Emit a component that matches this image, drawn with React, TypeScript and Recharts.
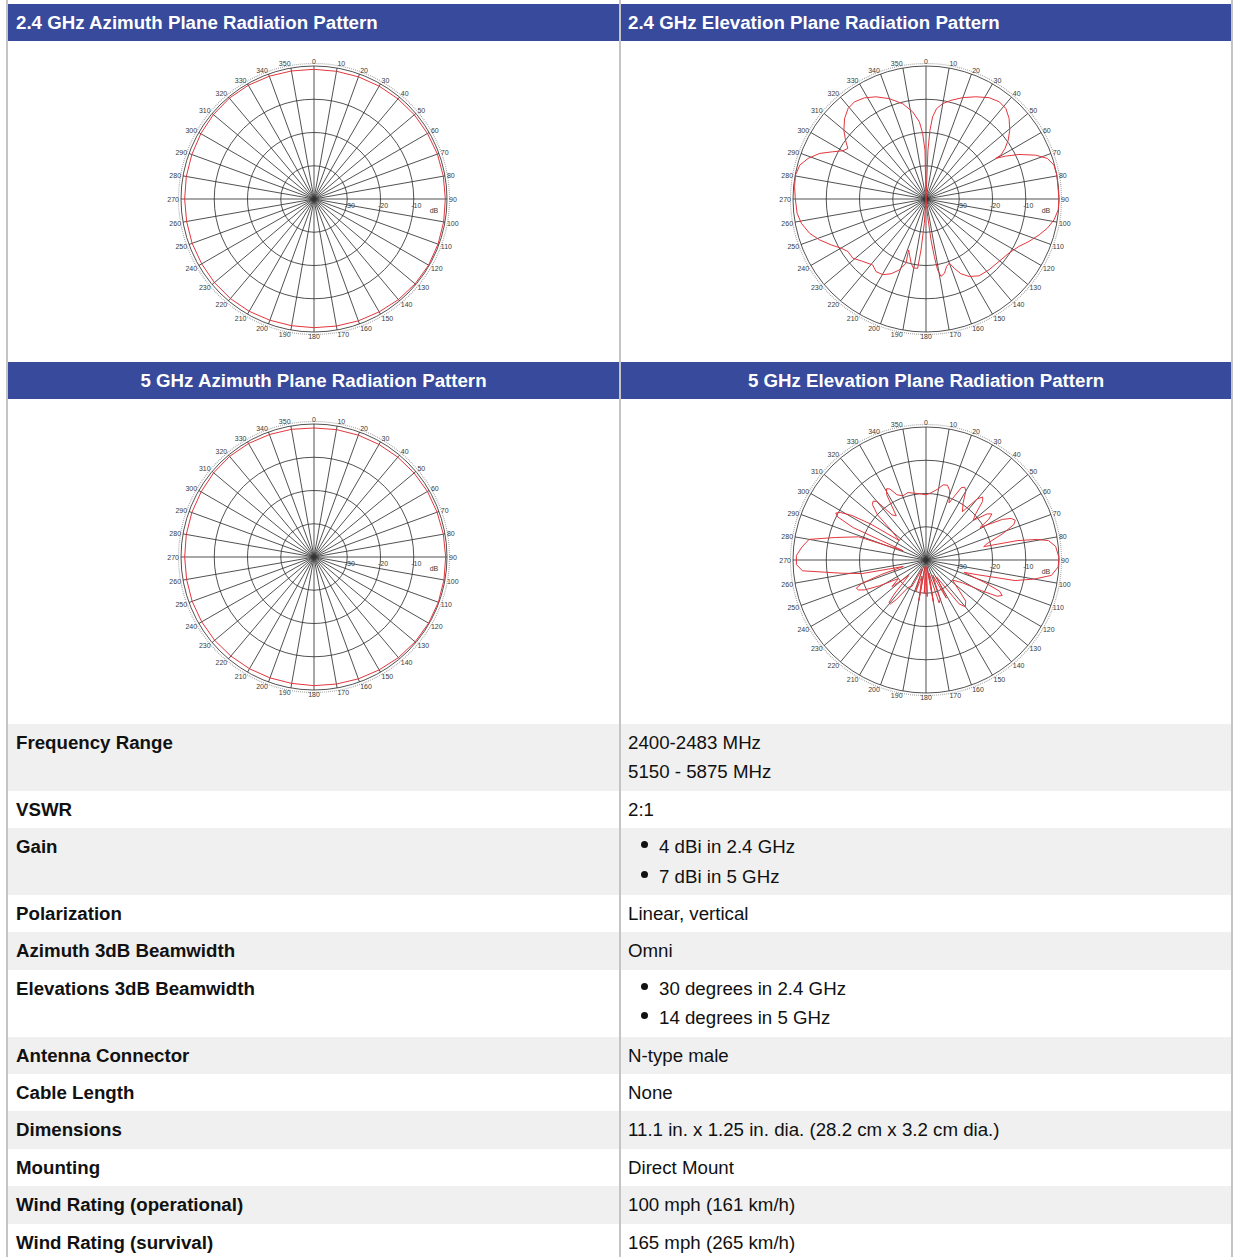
import React from "react";
import { RadarChart, Radar, PolarGrid, PolarAngleAxis, PolarRadiusAxis } from "recharts";

// polar scale: centre is -40 dB, outer ring 0 dB, rings every 10 dB
const angleTicks = [0, 10, 20, 30, 40, 50, 60, 70, 80, 90, 100, 110, 120, 130, 140, 150, 160, 170, 180, 190, 200, 210, 220, 230, 240, 250, 260, 270, 280, 290, 300, 310, 320, 330, 340, 350];
const dbTicks = [-40, -30, -20, -10, 0];
const dbLabels = [-30, -20, -10];

const azDeg = [0, 10, 20, 30, 40, 50, 60, 70, 80, 90, 100, 110, 120, 130, 140, 150, 160, 170, 180, 190, 200, 210, 220, 230, 240, 250, 260, 270, 280, 290, 300, 310, 320, 330, 340, 350];
const az24Db = [-1, -1, -0.9, -0.8, -0.7, -0.6, -0.6, -0.5, -0.5, -0.5, -0.4, -0.3, -0.2, -0.3, -0.5, -0.8, -1, -1.2, -1.3, -1.3, -1.2, -1, -0.9, -0.9, -1, -1, -1.1, -1.1, -1, -0.9, -0.7, -0.5, -0.4, -0.5, -0.7, -0.9];
const az5Db = [-1.2, -1.1, -1, -0.9, -0.8, -0.7, -0.6, -0.6, -0.5, -0.4, -0.3, -0.2, -0.2, -0.3, -0.5, -0.8, -1, -1.2, -1.3, -1.4, -1.3, -1.2, -1.1, -1, -1, -1, -1.1, -1.1, -1, -0.9, -0.8, -0.6, -0.5, -0.6, -0.8, -1];

// elevation traces follow the curve in drawing order (angles may step back on spikes)
const el24Deg = [
  0, 2.3, 3.3, 4.6, 6.7, 9.9, 14.2, 19.8, 26, 31.9,
  37, 41.4, 45.9, 50.6, 54.4, 57.4, 59.6, 59.8, 61.7, 64.4,
  68.2, 71.5, 75.2, 79.8, 90, 94.7, 99.3, 103.6, 107.6, 112.4,
  117, 123, 130.5, 138.3, 145.3, 150.8, 155, 157.8, 160, 163,
  166, 169, 170.7, 171.8, 173, 174.6, 180, 183.9, 185.6, 186.9,
  190.4, 193.1, 198.8, 197.3, 200.6, 205, 209.7, 214.5, 218.9, 225.3,
  231, 236.1, 239.9, 244.2, 249, 253.6, 259, 263.7, 270, 275.4,
  280.4, 285, 289, 293.2, 296.9, 300.1, 302.9, 306.2, 309.9, 314.6,
  319.2, 323.6, 328.7, 334, 340, 346.3, 351.3, 355.1, 357.1, 358.8,
];
const el24Db = [
  -40, -25.3, -19.3, -15.2, -12.6, -10.9, -9.4, -7.6, -5.8, -4.1,
  -3.4, -3.7, -5.2, -7.4, -9.6, -11.8, -13.9, -15.7, -12.8, -9,
  -4.5, -1.5, -0.2, 0, 0, -0.1, -1, -2.5, -4.3, -6.5,
  -8.6, -10.2, -11.1, -11.5, -11.9, -13.3, -15.2, -17.5, -19.5, -18.8,
  -17, -16.3, -18.4, -22.5, -27.6, -34.7, -40, -32.7, -24.6, -19,
  -18.9, -20.2, -23.8, -19.8, -17.2, -15.2, -13.8, -13.5, -14.5, -13.3,
  -11.7, -11.7, -10.5, -8.3, -5.7, -3.5, -1.8, -1, -0.7, -0.3,
  -0.1, -0.7, -2.5, -5.2, -8.6, -11.1, -12, -10, -7.8, -5.6,
  -4.1, -3.7, -4.4, -5.8, -7.9, -10.5, -13.5, -16.7, -20.3, -25.3,
];

const el5Deg = [
  0, 4, 9, 13, 16, 19, 22, 24, 26, 28,
  30, 33, 37, 40, 42, 44, 47, 50, 53, 55,
  57, 59, 62, 64, 66, 68, 71, 75, 77, 78,
  79.5, 81, 84, 89, 93, 97, 100, 103, 106, 108,
  111, 113, 115, 117, 119, 122, 127, 132, 136, 140,
  143, 148, 152, 156, 160, 163, 167, 170, 174, 178,
  180, 183, 186, 190, 194, 198, 203, 208, 213, 217,
  219, 221, 223, 228, 232, 236, 241, 244, 246, 248,
  250, 252, 254, 258, 261, 265, 268, 272, 276, 280,
  284, 289, 292, 294, 296, 297.5, 299, 301, 303, 306,
  310, 313, 316, 318, 320, 323, 326, 329, 331, 333,
  336, 340, 345, 350, 355,
];
const el5Db = [
  -20.4, -19.8, -18.5, -16.8, -16.6, -18, -21.5, -19, -15.8, -15.2,
  -16, -19.5, -21.8, -16, -14.5, -15.5, -19.5, -21.5, -17, -15.8,
  -17.5, -21, -14, -11.5, -10.6, -11.5, -15.5, -21, -22.2, -12,
  -6, -2.7, -0.8, 0, -0.2, -2, -7, -12.5, -24, -28,
  -21, -16, -14.7, -16, -21, -27, -30, -27, -22.8, -21.6,
  -23.5, -34, -27, -35, -27.5, -26.5, -36, -27, -38, -29,
  -36, -30, -38, -27.6, -35, -30, -37, -31, -30.2, -25,
  -23, -23, -26, -33, -27, -30, -24, -19.5, -17.8, -17.4,
  -19.5, -26, -32.9, -20.4, -14.5, -2.7, -1, -1, -2.5, -4.3,
  -12, -18.6, -32.6, -16, -10.5, -9.4, -10.5, -14, -20, -30,
  -27, -20, -16.8, -16.2, -17, -23, -24, -17, -15.5, -16,
  -18.5, -19.5, -19, -19.6, -20,
];

const chartTitles = [
  "2.4 GHz Azimuth Plane Radiation Pattern",
  "2.4 GHz Elevation Plane Radiation Pattern",
  "5 GHz Azimuth Plane Radiation Pattern",
  "5 GHz Elevation Plane Radiation Pattern",
];

const specNames = [
  "Frequency Range",
  "VSWR",
  "Gain",
  "Polarization",
  "Azimuth 3dB Beamwidth",
  "Elevations 3dB Beamwidth",
  "Antenna Connector",
  "Cable Length",
  "Dimensions",
  "Mounting",
  "Wind Rating (operational)",
  "Wind Rating (survival)",
];
const specValues = [
  ["2400-2483 MHz", "5150 - 5875 MHz"],
  ["2:1"],
  ["4 dBi in 2.4 GHz", "7 dBi in 5 GHz"],
  ["Linear, vertical"],
  ["Omni"],
  ["30 degrees in 2.4 GHz", "14 degrees in 5 GHz"],
  ["N-type male"],
  ["None"],
  ["11.1 in. x 1.25 in. dia. (28.2 cm x 3.2 cm dia.)"],
  ["Direct Mount"],
  ["100 mph (161 km/h)"],
  ["165 mph (265 km/h)"],
];
const bulletRows = ["Gain", "Elevations 3dB Beamwidth"];

const BLUE = "#374a9c";
const BORDER = "#c4c4c4";
const SHADE = "#f0f0f0";
const FONT = '"Liberation Sans", Arial, sans-serif';
const TEXT_SIZE = 18.7;
const SIZE = 300;
const OUTER = 133;

function AngleTick(props: any) {
  const { x, y, payload, textAnchor } = props;
  const a = (payload.coordinate * Math.PI) / 180;
  const dy = -Math.sin(a) * 2.5 + 2.8;
  return (
    <text x={x} y={y + dy} textAnchor={textAnchor} fontSize={7} fill="#3a3a3a" fontFamily={FONT}>
      {payload.value}
    </text>
  );
}

function DbTick(props: any) {
  const { x, y, payload } = props;
  if (payload.value === 0) {
    return (
      <text x={x - 13} y={y + 13.5} textAnchor="middle" fontSize={7} fill="#3a3a3a" fontFamily={FONT}>
        dB
      </text>
    );
  }
  if (!dbLabels.includes(payload.value)) return <g />;
  return (
    <text x={x + 2.5} y={y + 8.5} textAnchor="middle" fontSize={7} fill="#3a3a3a" fontFamily={FONT}>
      {payload.value}
    </text>
  );
}

function PolarPlot({ deg, db }: { deg: number[]; db: number[] }) {
  const data = deg.map((d, i) => ({ deg: d, db: db[i] }));
  return (
    <RadarChart
      width={SIZE}
      height={SIZE}
      data={data}
      cx={SIZE / 2}
      cy={SIZE / 2}
      outerRadius={OUTER}
      startAngle={90}
      endAngle={-270}
      margin={{ top: 0, right: 0, bottom: 0, left: 0 }}
    >
      <PolarGrid gridType="circle" stroke="#333" strokeWidth={0.85} />
      <PolarGrid gridType="circle" radialLines={false} polarRadius={[OUTER + 2.5]} stroke="#9a9a9a" strokeWidth={1.2} strokeDasharray="0.8 1.2" />
      <PolarAngleAxis
        dataKey="deg"
        type="number"
        domain={[0, 360]}
        ticks={angleTicks}
        tick={AngleTick}
        tickLine={false}
        axisLine={false}
        tickSize={2}
      />
      <PolarRadiusAxis
        angle={0}
        type="number"
        domain={[-40, 0]}
        ticks={dbTicks}
        tick={DbTick}
        axisLine={false}
        tickLine={false}
      />
      <Radar dataKey="db" stroke="#e3373d" strokeWidth={1} fill="none" fillOpacity={0} dot={false} isAnimationActive={false} />
    </RadarChart>
  );
}

function TwoCol({ left, right, bg, height }: { left: React.ReactNode; right: React.ReactNode; bg: string; height?: number }) {
  return (
    <div style={{ display: "flex", background: bg, height }}>
      <div style={{ width: 611 }}>{left}</div>
      <div style={{ width: 610, borderLeft: `2px solid ${BORDER}` }}>{right}</div>
    </div>
  );
}

const headStyle: React.CSSProperties = {
  height: 37,
  display: "flex",
  alignItems: "center",
  color: "#fff",
  fontWeight: "bold",
  fontSize: TEXT_SIZE,
  whiteSpace: "nowrap",
};

export default function App() {
  return (
    <div style={{ position: "absolute", left: 0, top: 0, width: 1236, height: 1257, background: "#fff", overflow: "hidden", fontFamily: FONT }}>
      <div style={{ position: "absolute", left: 6, top: 0, width: 1223, borderLeft: `2px solid ${BORDER}`, borderRight: `2px solid ${BORDER}` }}>
        <TwoCol bg="#fff" height={4} left={null} right={null} />
        <TwoCol
          bg={BLUE}
          left={<div style={{ ...headStyle, paddingLeft: 8 }}>{chartTitles[0]}</div>}
          right={<div style={{ ...headStyle, paddingLeft: 7 }}>{chartTitles[1]}</div>}
        />
        <TwoCol
          bg="#fff"
          height={321}
          left={<div style={{ display: "flex", justifyContent: "center", paddingTop: 8 }}><PolarPlot deg={azDeg} db={az24Db} /></div>}
          right={<div style={{ display: "flex", justifyContent: "center", paddingTop: 8 }}><PolarPlot deg={el24Deg} db={el24Db} /></div>}
        />
        <TwoCol
          bg={BLUE}
          left={<div style={{ ...headStyle, justifyContent: "center" }}>{chartTitles[2]}</div>}
          right={<div style={{ ...headStyle, justifyContent: "center" }}>{chartTitles[3]}</div>}
        />
        <TwoCol
          bg="#fff"
          height={325}
          left={<div style={{ display: "flex", justifyContent: "center", paddingTop: 8 }}><PolarPlot deg={azDeg} db={az5Db} /></div>}
          right={<div style={{ display: "flex", justifyContent: "center", paddingTop: 11 }}><PolarPlot deg={el5Deg} db={el5Db} /></div>}
        />
        {specNames.map((name, i) => {
          const bullets = bulletRows.includes(name);
          return (
            <TwoCol
              key={name}
              bg={i % 2 === 0 ? SHADE : "#fff"}
              left={
                <div style={{ padding: "4px 8px", lineHeight: "29.4px", fontSize: TEXT_SIZE, fontWeight: "bold", color: "#111", whiteSpace: "nowrap" }}>{name}</div>
              }
              right={
                <div style={{ padding: "4px 7px", lineHeight: "29.4px", fontSize: TEXT_SIZE, color: "#111", whiteSpace: "nowrap" }}>
                  {specValues[i].map((v) =>
                    bullets ? (
                      <div key={v} style={{ display: "flex", alignItems: "center", paddingLeft: 13 }}>
                        <span style={{ display: "inline-block", width: 7, height: 7, borderRadius: 4, background: "#111", marginRight: 11, position: "relative", top: -2 }} />
                        {v}
                      </div>
                    ) : (
                      <div key={v}>{v}</div>
                    )
                  )}
                </div>
              }
            />
          );
        })}
      </div>
    </div>
  );
}
